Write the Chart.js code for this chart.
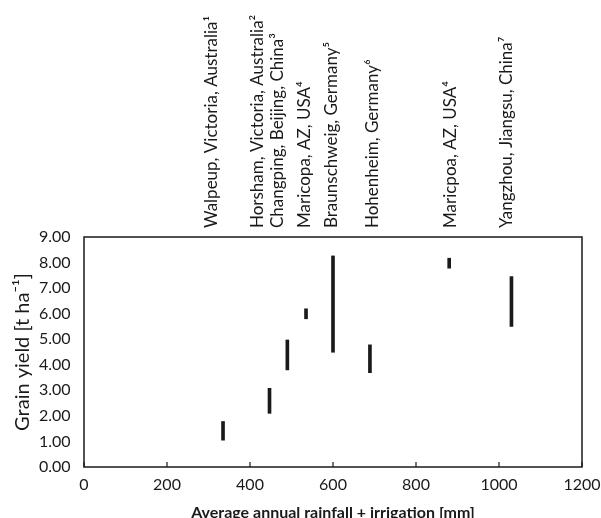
<!DOCTYPE html>
<html>
<head>
<meta charset="utf-8">
<script src="https://cdn.jsdelivr.net/npm/chart.js@4.4.1/dist/chart.umd.min.js"></script>
<style>
  body { margin: 0; background: #fff; }
</style>
</head>
<body>
<canvas id="yieldChart" width="601" height="518"></canvas>
<script>
// rainfall + irrigation (mm) for each site, and the yield range at that site
const rainfall = [335, 447, 490, 535, 600, 689, 880, 1030];
const yieldLow = [1.05, 2.10, 3.80, 5.80, 4.49, 3.69, 7.78, 5.50];
const yieldHigh = [1.78, 3.08, 4.97, 6.19, 8.26, 4.78, 8.17, 7.45];

// site names written above the plot, and where they sit on the x axis
const siteNames = [
    'Walpeup, Victoria, Australia¹',
    'Horsham, Victoria, Australia²',
    'Changping, Beijing, China³',
    'Maricopa, AZ, USA⁴',
    'Braunschweig, Germany⁵',
    'Hohenheim, Germany⁶',
    'Maricpoa, AZ, USA⁴',
    'Yangzhou, Jiangsu, China⁷'
];
const siteLabelX = [308, 419, 467, 532, 597, 696, 882, 1019];

const ink = '#1a1a1a';
const font = 'Lato, "Open Sans", sans-serif';

// plot box, inward ticks on the x axis, and the rotated site names on top
const boxPlugin = {
    id: 'box',
    afterDraw(chart) {
        const { ctx, chartArea: a } = chart;
        const xs = chart.scales.x;
        ctx.save();
        ctx.strokeStyle = ink;
        ctx.lineWidth = 1.5;
        ctx.strokeRect(a.left, a.top, a.right - a.left, a.bottom - a.top);
        ctx.lineWidth = 1.2;
        xs.ticks.forEach(t => {
            const px = xs.getPixelForValue(t.value);
            ctx.beginPath();
            ctx.moveTo(px, a.bottom);
            ctx.lineTo(px, a.bottom - 5);
            ctx.stroke();
        });

        ctx.fillStyle = ink;
        ctx.font = '17px ' + font;
        ctx.textAlign = 'left';
        ctx.textBaseline = 'middle';
        siteLabelX.forEach((v, i) => {
            ctx.save();
            ctx.translate(xs.getPixelForValue(v), a.top - 9);
            ctx.rotate(-Math.PI / 2);
            ctx.fillText(siteNames[i], 0, 0);
            ctx.restore();
        });
        ctx.restore();
    }
};

new Chart(document.getElementById('yieldChart'), {
    type: 'bar',
    data: {
        datasets: [{
            data: rainfall.map((r, i) => ({ x: r, y: [yieldLow[i], yieldHigh[i]] })),
            backgroundColor: ink,
            barThickness: 3
        }]
    },
    options: {
        responsive: false,
        animation: false,
        layout: { padding: { left: 0, right: 19, top: 237, bottom: 0 } },
        plugins: {
            legend: { display: false },
            tooltip: { enabled: false }
        },
        scales: {
            x: {
                type: 'linear',
                position: 'bottom',
                offset: false,
                min: 0,
                max: 1200,
                grid: { display: false, offset: false },
                border: { display: false },
                ticks: {
                    stepSize: 200,
                    padding: 0,
                    color: ink,
                    font: { family: font, size: 16 },
                    callback: v => String(v)
                },
                title: {
                    display: true,
                    text: 'Average annual rainfall + irrigation [mm]',
                    color: ink,
                    padding: { top: 0, bottom: 0 },
                    font: { family: font, size: 16, weight: 'bold', lineHeight: 0.6 }
                },
                afterFit(scale) {
                    scale.height = 51;
                    scale.paddingLeft = 0;
                    scale.paddingRight = 0;
                }
            },
            y: {
                min: 0,
                max: 9,
                grid: { display: false },
                border: { display: false },
                ticks: {
                    stepSize: 1,
                    padding: 5.5,
                    color: ink,
                    font: { family: font, size: 16 },
                    callback: v => v.toFixed(2)
                },
                title: {
                    display: true,
                    text: 'Grain yield [t ha⁻¹]',
                    color: ink,
                    padding: { top: 11, bottom: 0 },
                    font: { family: font, size: 20 }
                },
                afterFit(scale) {
                    scale.width = 84;
                    scale.paddingTop = 0;
                    scale.paddingBottom = 0;
                }
            }
        }
    },
    plugins: [boxPlugin]
});
</script>
</body>
</html>
